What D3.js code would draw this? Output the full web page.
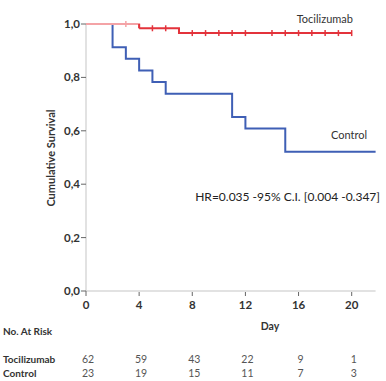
<!DOCTYPE html>
<html><head><meta charset="utf-8">
<script src="https://cdn.jsdelivr.net/npm/d3@7"></script>
<style>body{margin:0;background:#fff;} text{font-family:Lato, "Open Sans", sans-serif;}</style>
</head><body>
<svg id="c" width="386" height="381"></svg>
<script>
const controlDays = [0, 2, 3, 4, 5, 6, 11, 12, 15, 21.8];
const controlSurv = [1, 0.913, 0.870, 0.826, 0.783, 0.739, 0.652, 0.609, 0.522, 0.522];
const tociDays = [0, 4, 7, 20];
const tociSurv = [1, 0.984, 0.966, 0.966];
const tociCensorDays = [3, 5, 6, 8, 9, 10, 11, 12, 14, 15, 16, 17, 18, 19, 20];
const xTicks = [0, 4, 8, 12, 16, 20];
const yTicks = [0, 0.2, 0.4, 0.6, 0.8, 1.0];
const riskDays = [0, 4, 8, 12, 16, 20];
const tociRisk = [62, 59, 43, 22, 9, 1];
const controlRisk = [23, 19, 15, 11, 7, 3];

const svg = d3.select("#c");
const x = d3.scaleLinear().domain([0, 21.8]).range([86, 375.6]);
const y = d3.scaleLinear().domain([0, 1]).range([291, 24]);

// axis lines
svg.append("line").attr("x1", x(0)).attr("x2", x(21.8)).attr("y1", y(0)).attr("y2", y(0)).attr("stroke", "#d9d9d9").attr("stroke-width", 1.5);
svg.append("line").attr("x1", x(0)).attr("x2", x(0)).attr("y1", y(0)).attr("y2", y(1)).attr("stroke", "#d9d9d9").attr("stroke-width", 1.5);

const fmt = v => d3.format(".1f")(v).replace(".", ",");
// y ticks
yTicks.forEach(v => {
  svg.append("line").attr("x1", x(0) - 5).attr("x2", x(0)).attr("y1", y(v)).attr("y2", y(v)).attr("stroke", "#666").attr("stroke-width", 1);
  svg.append("text").attr("x", x(0) - 6).attr("y", y(v)).attr("dy", "0.35em").attr("text-anchor", "end")
    .attr("font-size", 11.5).attr("font-weight", "bold").attr("fill", "#333").text(fmt(v));
});
// x ticks
xTicks.forEach(v => {
  svg.append("line").attr("x1", x(v)).attr("x2", x(v)).attr("y1", y(0) + (v === 0 ? 0 : 1)).attr("y2", y(0) + 5).attr("stroke", "#666").attr("stroke-width", 1);
  svg.append("text").attr("x", x(v)).attr("y", y(0) + 14).attr("dy", "0.35em").attr("text-anchor", "middle")
    .attr("font-size", 11.5).attr("font-weight", "bold").attr("fill", "#333").text(v);
});

// y title
svg.append("text").attr("transform", `translate(51,158) rotate(-90)`).attr("text-anchor", "middle").attr("dy", "0.35em")
  .attr("font-size", 11).attr("font-weight", "bold").attr("fill", "#333").text("Cumulative Survival");
// x title
svg.append("text").attr("x", 270).attr("y", 326).attr("dy", "0.35em").attr("text-anchor", "middle")
  .attr("font-size", 10.5).attr("font-weight", "bold").attr("fill", "#333").text("Day");

const step = d3.line().x(d => x(d[0])).y(d => y(d[1])).curve(d3.curveStepAfter);

// control
const ctrl = controlDays.map((d, i) => [d, controlSurv[i]]);
svg.append("path").attr("d", step(ctrl)).attr("fill", "none").attr("stroke", "#3f5fb5").attr("stroke-width", 2);

// tocilizumab
const toci = tociDays.map((d, i) => [d, tociSurv[i]]);
svg.append("path").attr("d", step(toci.slice(0, 2))).attr("fill", "none").attr("stroke", "#f4a3a6").attr("stroke-width", 2);
svg.append("path").attr("d", step(toci.slice(1))).attr("fill", "none").attr("stroke", "#e3333b").attr("stroke-width", 2);
svg.append("line").attr("x1", x(tociDays[1])).attr("x2", x(tociDays[1])).attr("y1", y(tociSurv[0])).attr("y2", y(tociSurv[1])).attr("stroke", "#e3333b").attr("stroke-width", 2);

const survAt = t => { let s = 1; tociDays.forEach((d, i) => { if (t >= d) s = tociSurv[i]; }); return s; };
tociCensorDays.forEach(t => {
  svg.append("line").attr("x1", x(t)).attr("x2", x(t)).attr("y1", y(survAt(t)) - 3).attr("y2", y(survAt(t)) + 3)
    .attr("stroke", t < tociDays[1] ? "#f4a3a6" : "#e3333b").attr("stroke-width", 1.5);
});

// labels
svg.append("text").attr("x", 353).attr("y", 19).attr("dy", "0.35em").attr("text-anchor", "end").attr("font-size", 11).attr("fill", "#333").text("Tocilizumab");
svg.append("text").attr("x", 367).attr("y", 135).attr("dy", "0.35em").attr("text-anchor", "end").attr("font-size", 11).attr("fill", "#333").text("Control");
svg.append("text").attr("x", 380).attr("y", 197).attr("dy", "0.35em").attr("text-anchor", "end").attr("font-size", 12).attr("fill", "#222").text("HR=0.035 -95% C.I. [0.004 -0.347]");

// at risk table
svg.append("text").attr("x", 3).attr("y", 331).attr("dy", "0.35em").attr("font-size", 10).attr("font-weight", "bold").attr("fill", "#333").text("No. At Risk");
svg.append("text").attr("x", 3).attr("y", 359).attr("dy", "0.35em").attr("font-size", 10).attr("font-weight", "bold").attr("fill", "#333").text("Tocilizumab");
svg.append("text").attr("x", 3).attr("y", 373.5).attr("dy", "0.35em").attr("font-size", 10).attr("font-weight", "bold").attr("fill", "#333").text("Control");
riskDays.forEach((d, i) => {
  svg.append("text").attr("x", x(d) + 2).attr("y", 359).attr("dy", "0.35em").attr("text-anchor", "middle").attr("font-size", 10.5).attr("fill", "#555").text(tociRisk[i]);
  svg.append("text").attr("x", x(d) + 2).attr("y", 373.5).attr("dy", "0.35em").attr("text-anchor", "middle").attr("font-size", 10.5).attr("fill", "#555").text(controlRisk[i]);
});
</script>
</body></html>
